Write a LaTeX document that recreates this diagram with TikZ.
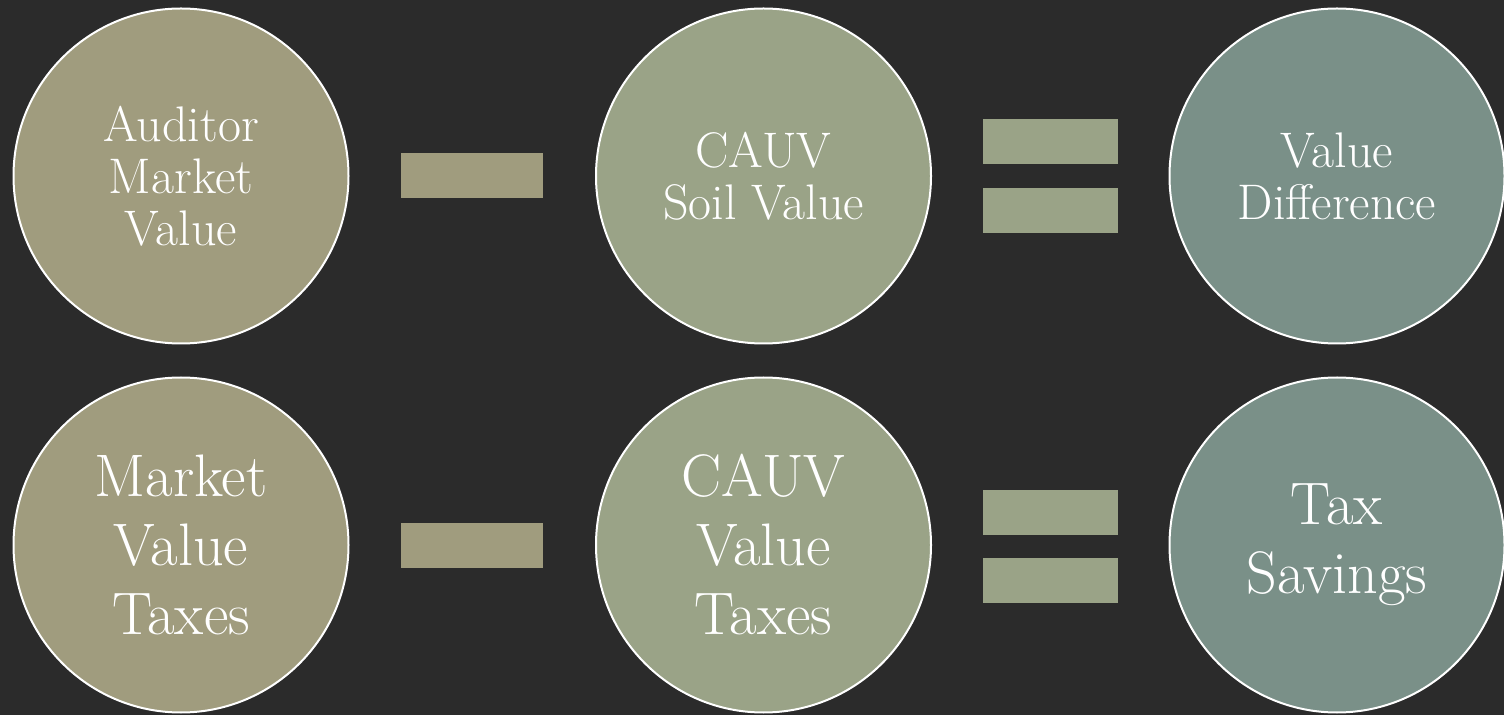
\documentclass[tikz,border=0pt]{standalone}
\usepackage{fontspec}
\usetikzlibrary{positioning}

\definecolor{board}{HTML}{2B2B2B}
\definecolor{khaki}{HTML}{A09C7E}
\definecolor{sage}{HTML}{9AA387}
\definecolor{greyteal}{HTML}{7A9088}

\tikzset{
  bubble/.style={circle, draw=white, line width=2pt, minimum size=335pt,
    inner sep=0pt, text=white, align=center},
  smalltxt/.style={font=\fontsize{50}{52}\selectfont},
  bigtxt/.style={font=\fontsize{60}{69}\selectfont},
  bar/.style={rectangle, inner sep=0pt, minimum height=45pt},
}

\begin{document}
\begin{tikzpicture}[x=1pt, y=1pt]
        % Background
        \fill[board] (0,0) rectangle (1504,715);
        \useasboundingbox (0,0) rectangle (1504,715);

        % Top row: values
        \node[bubble, smalltxt, fill=khaki] (auditor) at (181,539) {Auditor\\Market\\Value};
        \node[bar, fill=khaki, minimum width=142pt] (minustop) at (472,539.5) {};
        \node[bubble, smalltxt, fill=sage] (soil) at (763.5,539) {CAUV\\Soil Value};
        \node[bar, fill=sage, minimum width=135pt] (eqtopa) at (1050.5,573) {};
        \node[bar, fill=sage, minimum width=135pt] (eqtopb) at (1050.5,504.5) {};
        \node[bubble, smalltxt, fill=greyteal] (diff) at (1337,539) {Value\\Difference};

        % Bottom row: taxes
        \node[bubble, bigtxt, fill=khaki] (mvtax) at (181,170) {Market\\Value\\Taxes};
        \node[bar, fill=khaki, minimum width=142pt] (minusbot) at (472,169.5) {};
        \node[bubble, bigtxt, fill=sage] (cauvtax) at (763.5,170) {CAUV\\Value\\Taxes};
        \node[bar, fill=sage, minimum width=135pt] (eqbota) at (1050.5,202.5) {};
        \node[bar, fill=sage, minimum width=135pt] (eqbotb) at (1050.5,134.5) {};
        \node[bubble, bigtxt, fill=greyteal] (savings) at (1337,170) {Tax\\Savings};
\end{tikzpicture}
\end{document}
